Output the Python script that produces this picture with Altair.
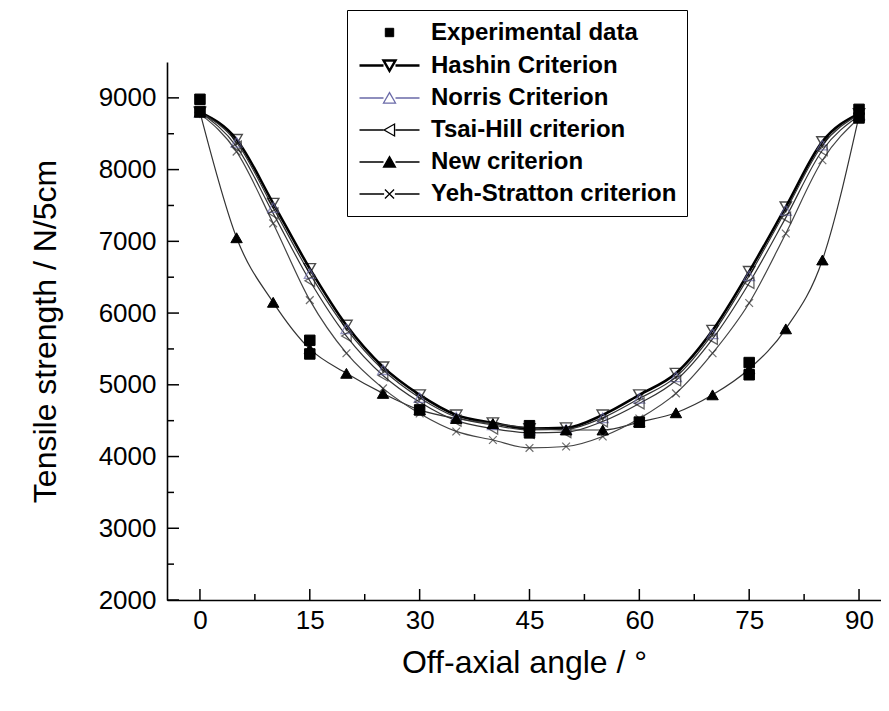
import altair as alt
import pandas as pd

FONT = "Liberation Sans"

# ---------------- data ----------------
angles = [0, 5, 10, 15, 20, 25, 30, 35, 40, 45, 50, 55, 60, 65, 70, 75, 80, 85, 90]
hashin = [8800, 8420, 7530, 6620, 5830, 5250, 4860, 4580, 4470, 4390, 4400, 4580, 4860, 5160, 5760, 6580, 7480, 8390, 8780]
norris = [8800, 8380, 7470, 6550, 5780, 5210, 4820, 4550, 4440, 4370, 4380, 4540, 4810, 5110, 5710, 6520, 7430, 8340, 8770]
tsai_hill = [8800, 8320, 7390, 6450, 5680, 5130, 4760, 4500, 4390, 4330, 4340, 4490, 4740, 5060, 5640, 6420, 7330, 8270, 8750]
new_crit = [8800, 7050, 6150, 5500, 5160, 4880, 4650, 4530, 4460, 4400, 4370, 4370, 4480, 4610, 4860, 5220, 5780, 6740, 8750]
yeh_stratton = [8780, 8250, 7250, 6180, 5440, 4950, 4600, 4350, 4230, 4120, 4140, 4280, 4530, 4880, 5440, 6140, 7110, 8130, 8720]

exp_angles = [0, 0, 15, 15, 30, 45, 45, 60, 75, 75, 90, 90]
exp_values = [8980, 8810, 5620, 5430, 4650, 4430, 4330, 4480, 5310, 5140, 8840, 8720]

series_names = ["Experimental data", "Hashin Criterion", "Norris Criterion",
                "Tsai-Hill criterion", "New criterion", "Yeh-Stratton criterion"]

x_major = [0, 15, 30, 45, 60, 75, 90]
x_minor = [7.5, 22.5, 37.5, 52.5, 67.5, 82.5]
y_major = [2000, 3000, 4000, 5000, 6000, 7000, 8000, 9000]
y_minor = [2500, 3500, 4500, 5500, 6500, 7500, 8500]

# ---------------- build tables ----------------
model_values = {
    "Hashin Criterion": hashin,
    "Norris Criterion": norris,
    "Tsai-Hill criterion": tsai_hill,
    "New criterion": new_crit,
    "Yeh-Stratton criterion": yeh_stratton,
}
rows = []
for name, vals in model_values.items():
    for a, v in zip(angles, vals):
        rows.append({"series": name, "angle": a, "value": v})
for a, v in zip(exp_angles, exp_values):
    rows.append({"series": "Experimental data", "angle": a, "value": v})
df = pd.DataFrame(rows)

W, H = 714, 538

xscale = alt.Scale(domain=[-4.5, 93], nice=False, zero=False)
yscale = alt.Scale(domain=[2000, 9500], nice=False, zero=False)
xaxis = alt.Axis(values=x_major, title="Off-axial angle / °", labelPadding=7, titlePadding=14)
yaxis = alt.Axis(values=y_major, format="d", title="Tensile strength / N/5cm",
                 labelPadding=11, titlePadding=36)


def X():
    return alt.X("angle:Q", scale=xscale, axis=xaxis)


def Y():
    return alt.Y("value:Q", scale=yscale, axis=yaxis)


def sub(name):
    return alt.Chart(df).transform_filter(alt.datum.series == name)


# marker paths (unit box -1..1)
X_PATH = "M-1,-1L1,1M-1,1L1,-1"

line_styles = {
    "Hashin Criterion": dict(color="black", strokeWidth=2.6),
    "Norris Criterion": dict(color="#333333", strokeWidth=1.2),
    "Tsai-Hill criterion": dict(color="#333333", strokeWidth=1.2),
    "New criterion": dict(color="#333333", strokeWidth=1.2),
    "Yeh-Stratton criterion": dict(color="#444444", strokeWidth=1.2),
}

layers = []
for name, st in line_styles.items():
    layers.append(sub(name).mark_line(interpolate="monotone", **st).encode(x=X(), y=Y()))

marker_styles = {
    "Hashin Criterion": dict(shape="triangle-down", filled=False, stroke="black", strokeWidth=1.4, size=130),
    "Norris Criterion": dict(shape="triangle-up", filled=False, stroke="#6a6aa8", strokeWidth=1.3, size=120),
    "Tsai-Hill criterion": dict(shape="triangle-left", filled=False, stroke="#222222", strokeWidth=1.3, size=120),
    "New criterion": dict(shape="triangle-up", filled=True, fill="black", stroke="black", strokeWidth=1, size=130, opacity=1),
    "Yeh-Stratton criterion": dict(shape=X_PATH, filled=False, stroke="#333333", strokeWidth=1.2, size=60),
    "Experimental data": dict(shape="square", filled=True, fill="black", stroke="black", strokeWidth=1, size=110, opacity=1),
}
for name, st in marker_styles.items():
    layers.append(sub(name).mark_point(**st).encode(x=X(), y=Y()))

# axis ticks pointing inward
tick_color = "black"
layers.append(alt.Chart(pd.DataFrame({"value": y_major})).mark_rule(color=tick_color, strokeWidth=1.5)
              .encode(y=Y(), x=alt.value(0), x2=alt.value(12)))
layers.append(alt.Chart(pd.DataFrame({"value": y_minor})).mark_rule(color=tick_color, strokeWidth=1.5)
              .encode(y=Y(), x=alt.value(0), x2=alt.value(7)))
layers.append(alt.Chart(pd.DataFrame({"angle": x_major})).mark_rule(color=tick_color, strokeWidth=1.5)
              .encode(x=X(), y=alt.value(H), y2=alt.value(H - 11)))
layers.append(alt.Chart(pd.DataFrame({"angle": x_minor})).mark_rule(color=tick_color, strokeWidth=1.5)
              .encode(x=X(), y=alt.value(H), y2=alt.value(H - 6)))

# legend (line + marker symbols)
legend_paths = [
    "M-0.35,-0.35H0.35V0.35H-0.35Z",
    "M-2.5,0L-0.5,0M0.5,0L2.5,0M-0.5,-0.42L0.5,-0.42L0,0.45Z",
    "M-2.5,0L-0.5,0M0.5,0L2.5,0M-0.5,0.42L0.5,0.42L0,-0.45Z",
    "M-2.5,0L-0.5,0M0.5,0L2.5,0M0.42,-0.5L0.42,0.5L-0.45,0Z",
    "M-2.5,0L-0.5,0M0.5,0L2.5,0M-0.5,0.42L0.5,0.42L0,-0.45Z",
    "M-2.5,0L-0.45,0M0.45,0L2.5,0M-0.38,-0.38L0.38,0.38M-0.38,0.38L0.38,-0.38",
]
legend_fills = ["black", "transparent", "transparent", "transparent", "black", "transparent"]
legend_strokes = ["black", "black", "#6a6aa8", "black", "black", "black"]
legend_widths = [1, 2.4, 1.3, 1.3, 1.3, 1.3]

leg = alt.Legend(
    title=None, orient="none", legendX=180, legendY=-52,
    strokeColor="black", fillColor="white", padding=10,
    symbolSize=576, symbolOffset=19, labelOffset=28,
    labelFont=FONT, labelFontSize=24, labelFontWeight="bold", labelColor="black",
    labelLimit=400, rowPadding=7,
)
legend_layer = (
    alt.Chart(pd.DataFrame({"series": series_names}))
    .transform_filter("false")
    .mark_point(size=576, opacity=1)
    .encode(
        shape=alt.Shape("series:N", scale=alt.Scale(domain=series_names, range=legend_paths), legend=leg),
        fill=alt.Fill("series:N", scale=alt.Scale(domain=series_names, range=legend_fills), legend=leg),
        stroke=alt.Stroke("series:N", scale=alt.Scale(domain=series_names, range=legend_strokes), legend=leg),
        strokeWidth=alt.StrokeWidth("series:N", scale=alt.Scale(type="ordinal", domain=series_names, range=legend_widths), legend=leg),
    )
)
layers.append(legend_layer)

chart = (
    alt.layer(*layers)
    .properties(
        width=W, height=H,
        autosize=alt.AutoSizeParams(type="none"),
        padding={"left": 159, "top": 54, "right": 0, "bottom": 95},
        background="white",
    )
    .configure_view(stroke=None)
    .configure_axis(
        grid=False, ticks=False,
        domainColor="black", domainWidth=1.6,
        labelFont=FONT, labelFontSize=26, labelColor="black",
        titleFont=FONT, titleFontSize=32, titleFontWeight="normal", titleColor="black",
    )
)

chart.save("out.html", embed_options={"renderer": "svg", "actions": False})
